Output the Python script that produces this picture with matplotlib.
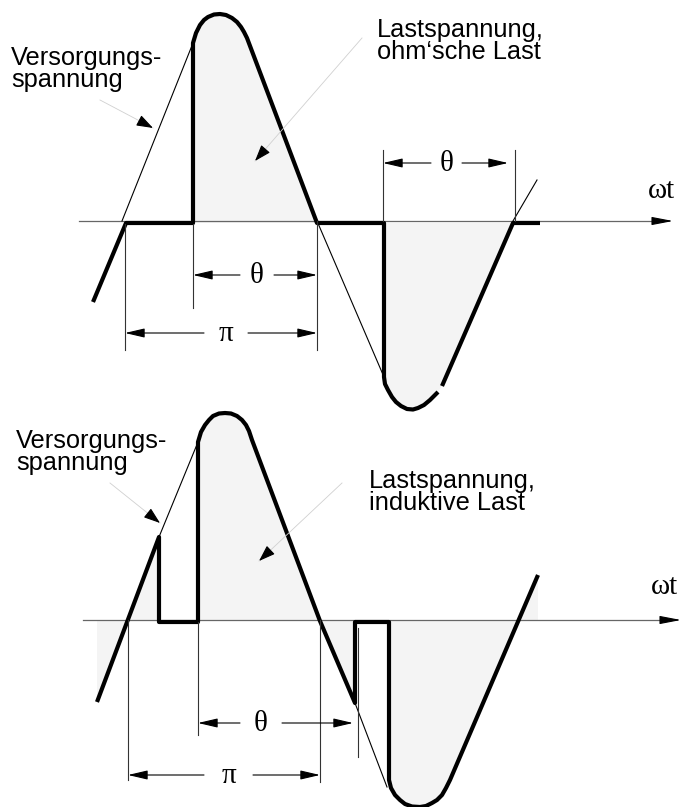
import numpy as np
import matplotlib
matplotlib.use('Agg')
import matplotlib.pyplot as plt

nan = np.nan

# Zuendwinkelsteuerung - Skizze, Koordinaten
# Achsen (Nulllinie) der beiden Teilbilder
AXIS_TOP = 221
AXIS_BOT = 620

# oben: Lastspannung (ohm'sche Last), dicke Linie
top_load_x = [93, 126, 193, 193, 196, 200, 204, 208, 214, 220, 226, 232, 237, 241, 244, 247, 317,
              384, 384, 385, 388, 392, 396, 401, 407, 413, 418, 424, 430, 434, 438, nan, 442, 513, 540]
top_load_y = [302, 223, 223, 43, 33, 25, 20, 17, 14.5, 14, 15, 18, 22, 27, 32, 38, 223,
              223, 377, 384, 390, 397, 402, 406, 409, 409.5, 408, 405, 400, 396, 392, nan, 386, 223, 223]

# oben: Versorgungsspannung, duenne Linie
top_sup_x = [122, 193, nan, 317, 384, nan, 513, 537]
top_sup_y = [221, 43, nan, 221, 377, nan, 221, 180]

# unten: Lastspannung (induktive Last)
bot_load_x = [97, 159, 159, 198, 198, 201, 205, 209, 213, 219, 225, 231, 237, 242, 246, 249, 252, 320, 355, 355,
              389, 389, 391, 395, 400, 405, 412, 420, 426, 432, 437, 442, 446, 450, 538]
bot_load_y = [702, 537, 622, 622, 442, 432, 425, 420, 416, 413.5, 413, 413.5, 416, 420, 425, 431, 440, 621, 703, 622,
              622, 780, 788, 795, 800, 804, 806.5, 807, 806, 803, 800, 795, 788, 780, 575]

# unten: Versorgungsspannung
bot_sup_x = [159, 198, nan, 355, 387]
bot_sup_y = [537, 442, nan, 703, 787]

FILL = '#f4f4f4'
DIM = '#333333'
SANS = 'Liberation Sans'
SERIF = 'Liberation Serif'


def arrow(ax, start, tip, color='black', hl=1.2, hw=0.28):
  ax.annotate('', xy=tip, xytext=start,
              arrowprops=dict(arrowstyle='-|>,head_length=%s,head_width=%s' % (hl, hw),
                              color=color, lw=0.8, shrinkA=0, shrinkB=0))


def dimension(ax, x0, x1, y, text, gap0, gap1):
  # Masspfeil mit Text in der Luecke
  arrow(ax, (gap0, y), (x0, y), color='black')
  arrow(ax, (gap1, y), (x1, y), color='black')
  ax.text((gap0 + gap1) / 2.0, y + 1, text, fontsize=21, family=SERIF,
          ha='center', va='center')


def leader(ax, start, tip):
  # hellgraue Hinweislinie mit schwarzer Spitze
  ax.plot([start[0], tip[0]], [start[1], tip[1]], color='#d0d0d0', lw=0.6)
  d = np.array(tip, float) - np.array(start, float)
  d = d / np.hypot(d[0], d[1])
  back = (tip[0] - 11 * d[0], tip[1] - 11 * d[1])
  arrow(ax, back, tip, hl=1.0, hw=0.35)


def axis_line(ax, x0, x1, y):
  ax.plot([x0, x1 - 10], [y, y], color='#666666', lw=0.9)
  arrow(ax, (x1 - 16, y), (x1, y), hl=1.3, hw=0.25)


fig = plt.figure(figsize=(6.82, 8.07), dpi=100)
ax = fig.add_axes([0, 0, 1, 1])
ax.set_xlim(0, 682)
ax.set_ylim(807, 0)
ax.axis('off')

# ---------- oberes Bild ----------
i1 = top_load_x.index(317) + 1
i2 = top_load_x.index(438) + 1
ax.fill(top_load_x[2:i1], top_load_y[2:i1], color=FILL, lw=0)
ax.fill(top_load_x[i1:i2] + top_load_x[i2 + 1:i2 + 3], top_load_y[i1:i2] + top_load_y[i2 + 1:i2 + 3],
        color=FILL, lw=0)
axis_line(ax, 79, 673, AXIS_TOP)
ax.plot(top_sup_x, top_sup_y, color='black', lw=0.8)
ax.plot(top_load_x, top_load_y, color='black', lw=3.0, solid_joinstyle='round', solid_capstyle='butt')

# Masslinien
for x, y0, y1 in [(125, 224, 350), (317, 221, 350), (193, 224, 308), (383, 150, 221), (515, 150, 221)]:
  ax.plot([x, x], [y0, y1], color=DIM, lw=0.8)
dimension(ax, 193, 317, 275, '\u03b8', 240, 274)
dimension(ax, 125, 317, 333, '\u03c0', 204, 248)
dimension(ax, 383, 508, 163, '\u03b8', 431, 462)

ax.text(11, 46, 'Versorgungs-\nspannung', fontsize=18.3, family=SANS,
        va='top', ha='left', linespacing=0.9)
ax.text(377, 18, 'Lastspannung,\nohm\u2018sche Last', fontsize=18.3, family=SANS,
        va='top', ha='left', linespacing=0.9)
ax.text(648, 191, '\u03c9t', fontsize=21, family=SERIF, va='center', ha='left')
leader(ax, (100, 100), (153, 128))
leader(ax, (362, 38), (255, 161))

# ---------- unteres Bild ----------
ax.fill(bot_load_x + [538, 97], bot_load_y + [AXIS_BOT, AXIS_BOT], color=FILL, lw=0)
axis_line(ax, 83, 681, AXIS_BOT)
ax.plot(bot_sup_x, bot_sup_y, color='black', lw=0.8)
ax.plot(bot_load_x, bot_load_y, color='black', lw=3.0, solid_joinstyle='round', solid_capstyle='butt')

for x, y0, y1 in [(128, 620, 780), (320, 620, 782), (198, 622, 735), (358, 628, 757)]:
  ax.plot([x, x], [y0, y1], color=DIM, lw=0.8)
dimension(ax, 198, 353, 723, '\u03b8', 240, 282)
dimension(ax, 128, 320, 775, '\u03c0', 204, 253)

ax.text(16, 429, 'Versorgungs-\nspannung', fontsize=18.3, family=SANS,
        va='top', ha='left', linespacing=0.9)
ax.text(369, 469, 'Lastspannung,\ninduktive Last', fontsize=18.3, family=SANS,
        va='top', ha='left', linespacing=0.9)
ax.text(651, 587, '\u03c9t', fontsize=21, family=SERIF, va='center', ha='left')
leader(ax, (110, 483), (160, 523))
leader(ax, (342, 483), (259, 561))

fig.savefig('out.png', dpi=100)
